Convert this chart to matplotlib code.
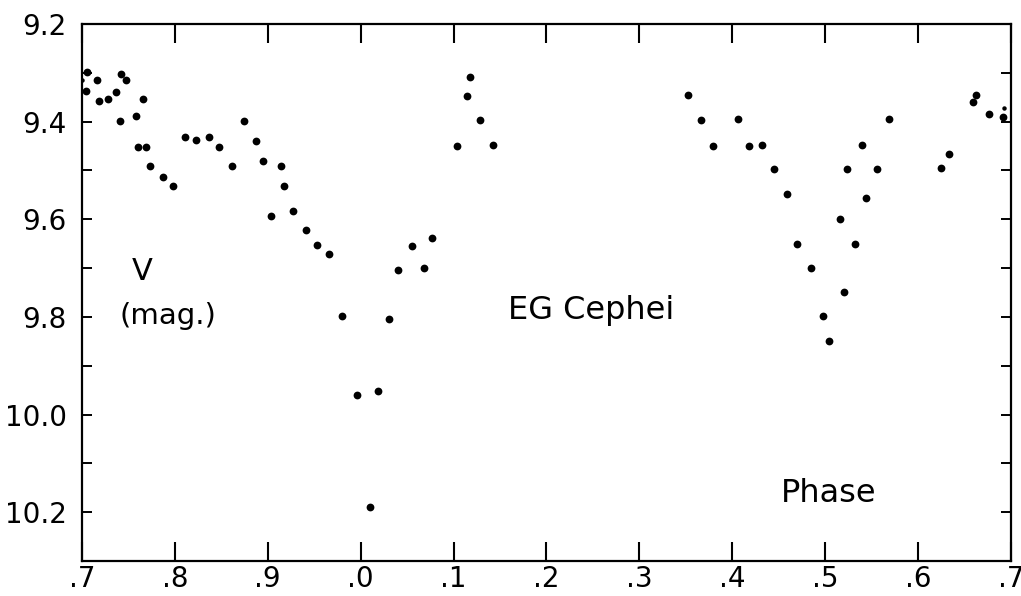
"""EG Cephei V light curve against phase (.7 to .7)."""
import matplotlib

matplotlib.use("Agg")
import matplotlib.pyplot as plt
from matplotlib.ticker import FixedLocator, MultipleLocator

# phase (continued past 1.0 so the curve runs .7 -> .7)
phase = [
    0.705, 0.704, 0.716, 0.718, 0.728, 0.737, 0.742, 0.747, 0.741, 0.758,
    0.766, 0.760, 0.769, 0.773, 0.787, 0.798, 0.811, 0.823, 0.837, 0.847,
    0.862, 0.874, 0.887, 0.895, 0.914, 0.918, 0.904, 0.927, 0.941, 0.953,
    0.966, 0.980, 0.996, 1.010, 1.019, 1.031, 1.040, 1.055, 1.068, 1.077,
    1.104, 1.115, 1.118, 1.128, 1.143, 1.353, 1.367, 1.379, 1.406, 1.418,
    1.432, 1.445, 1.459, 1.470, 1.485, 1.498, 1.504, 1.516, 1.520, 1.524,
    1.532, 1.540, 1.544, 1.556, 1.569, 1.625, 1.634, 1.659, 1.663, 1.677,
    1.692,
]
vmag = [
    9.298, 9.338, 9.315, 9.357, 9.353, 9.340, 9.302, 9.315, 9.399, 9.388,
    9.353, 9.452, 9.452, 9.490, 9.513, 9.532, 9.432, 9.438, 9.431, 9.452,
    9.491, 9.399, 9.439, 9.480, 9.491, 9.531, 9.593, 9.583, 9.621, 9.653,
    9.672, 9.798, 9.960, 10.190, 9.952, 9.804, 9.704, 9.655, 9.700, 9.639,
    9.449, 9.348, 9.308, 9.397, 9.447, 9.346, 9.397, 9.449, 9.395, 9.449,
    9.448, 9.498, 9.549, 9.651, 9.699, 9.798, 9.850, 9.600, 9.749, 9.498,
    9.651, 9.448, 9.557, 9.498, 9.394, 9.494, 9.466, 9.359, 9.346, 9.384,
    9.391,
]
# two faint, smaller dots at the edges
faint_phase = [0.700, 1.693]
faint_vmag = [9.315, 9.373]

x_ticks = [0.7, 0.8, 0.9, 1.0, 1.1, 1.2, 1.3, 1.4, 1.5, 1.6, 1.7]
x_labels = [".7", ".8", ".9", ".0", ".1", ".2", ".3", ".4", ".5", ".6", ".7"]
y_ticks = [9.2, 9.4, 9.6, 9.8, 10.0, 10.2]
y_labels = ["9.2", "9.4", "9.6", "9.8", "10.0", "10.2"]

plt.rcParams["font.family"] = ["DejaVu Sans"]

fig = plt.figure(figsize=(10.21, 5.96), dpi=100)
ax = fig.add_axes([0.0803, 0.0587, 0.9097, 0.901])

ax.plot(phase, vmag, "o", color="black", ms=5.6, mew=0)
ax.plot(faint_phase, faint_vmag, "o", color="black", ms=3.2, mew=0)

ax.set_xlim(0.7, 1.7)
ax.set_ylim(10.3, 9.2)

ax.xaxis.set_major_locator(FixedLocator(x_ticks))
ax.set_xticklabels(x_labels, fontsize=20)
ax.yaxis.set_major_locator(FixedLocator(y_ticks))
ax.set_yticklabels(y_labels, fontsize=20)
ax.yaxis.set_minor_locator(MultipleLocator(0.1))

ax.tick_params(axis="x", which="major", direction="in", length=14, width=1.5,
               top=True, bottom=True, pad=3)
ax.tick_params(axis="y", which="both", direction="in", length=7, width=1.4,
               left=True, right=True, pad=11)
for s in ax.spines.values():
    s.set_linewidth(1.6)

ax.text(0.765, 9.706, "V", fontsize=22, ha="center", va="center")
ax.text(0.793, 9.798, "(mag.)", fontsize=21, ha="center", va="center")
ax.text(1.248, 9.786, "EG Cephei", fontsize=23, ha="center", va="center")
ax.text(1.504, 10.161, "Phase", fontsize=23, ha="center", va="center")

fig.savefig("out.png", dpi=100)
